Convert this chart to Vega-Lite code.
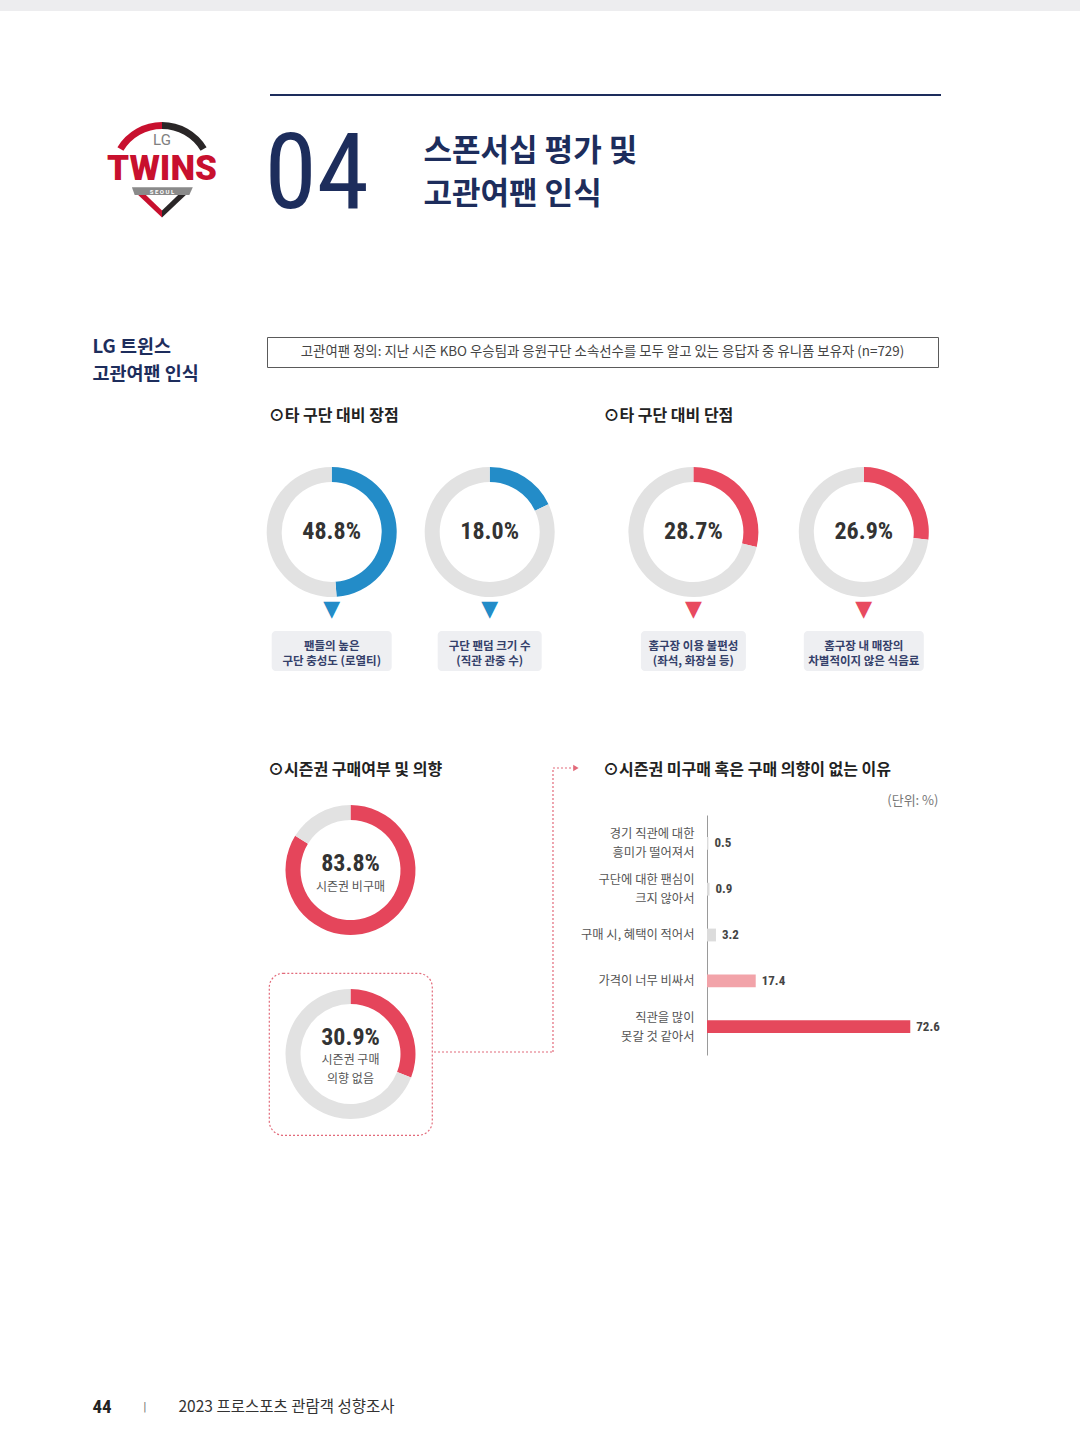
{
  "$schema": "https://vega.github.io/schema/vega-lite/v6.json",
  "background": "white",
  "padding": 0,
  "spacing": 0,
  "resolve": {"scale": {"color": "independent"}},
  "config": {
    "view": {"stroke": null},
    "font": "Noto Sans CJK KR",
    "title": {"font": "Noto Sans CJK KR", "fontWeight": "bold", "fontSize": 16, "color": "#222222"},
    "axis": {"labelFont": "Noto Sans CJK KR", "titleFont": "Noto Sans CJK KR"}
  },
  "vconcat": [
    {"width": 1080, "height": 11, "data": {"values": []}, "mark": "point", "view": {"fill": "#ededef", "stroke": null}},
    {"width": 1, "height": 83, "data": {"values": []}, "mark": "point"},
    {
      "spacing": 0,
      "resolve": {"scale": {"color": "independent"}},
      "hconcat": [
        {"width": 92, "height": 1, "data": {"values": []}, "mark": "point"},
        {
          "spacing": 0,
          "resolve": {"scale": {"color": "independent"}},
          "vconcat": [
            {
              "hconcat": [
                {
                  "width": 140,
                  "height": 160,
                  "layer": [
                    {
                      "data": {"values": [{"half": "L", "share": 1}, {"half": "R", "share": 1}]},
                      "mark": {"type": "arc", "radius": 52, "radius2": 45},
                      "encoding": {
                        "theta": {"field": "share", "type": "quantitative", "stack": true, "scale": {"range": [-1.03, 1.03]}},
                        "order": {"field": "half"},
                        "color": {"field": "half", "type": "nominal", "scale": {"domain": ["L", "R"], "range": ["#c8102e", "#2a2627"]}, "legend": null}
                      }
                    },
                    {
                      "data": {"values": [{}]},
                      "mark": {"type": "point", "shape": "M-0.43,0.19L0.44,0.19L0.39,0.3L-0.39,0.3Z", "size": 19600, "filled": true, "opacity": 1, "color": "#8a8a8a", "strokeWidth": 0},
                      "encoding": {}
                    },
                    {
                      "data": {"values": [{}]},
                      "mark": {"type": "point", "shape": "M-0.34,0.3L0,0.62L0,0.52L-0.23,0.3Z", "size": 19600, "filled": true, "opacity": 1, "color": "#c8102e", "strokeWidth": 0},
                      "encoding": {}
                    },
                    {
                      "data": {"values": [{}]},
                      "mark": {"type": "point", "shape": "M0.34,0.3L0,0.62L0,0.52L0.23,0.3Z", "size": 19600, "filled": true, "opacity": 1, "color": "#2a2627", "strokeWidth": 0},
                      "encoding": {}
                    },
                    {
                      "data": {"values": [{"t": "LG"}]},
                      "mark": {"type": "text", "font": "Roboto", "fontSize": 15, "color": "#808080", "dy": -34},
                      "encoding": {"text": {"field": "t"}}
                    },
                    {
                      "data": {"values": [{"t": "TWINS"}]},
                      "mark": {"type": "text", "font": "Roboto", "fontWeight": 900, "fontSize": 35, "color": "#c8102e", "dy": -5},
                      "encoding": {"text": {"field": "t"}}
                    },
                    {
                      "data": {"values": [{"t": "S E O U L"}]},
                      "mark": {"type": "text", "font": "Roboto", "fontWeight": "bold", "fontSize": 6, "color": "#ffffff", "dy": 18},
                      "encoding": {"text": {"field": "t"}}
                    }
                  ]
                },
                {
                  "spacing": 0,
                  "vconcat": [
                    {
                      "width": 671,
                      "height": 2,
                      "data": {"values": []},
                      "mark": "point",
                      "view": {"fill": "#1d2d5c", "stroke": null}
                    },
                    {
                      "spacing": 53,
                      "hconcat": [
                        {
                          "width": 1,
                          "height": 150,
                          "data": {"values": [{"t": "04"}]},
                          "mark": {"type": "text", "align": "left", "baseline": "middle", "font": "Liberation Sans Narrow, Roboto Condensed, DejaVu Sans Condensed, Roboto, sans-serif", "fontSize": 106, "color": "#1d2d5c", "dx": -6, "dy": 5},
                          "encoding": {"text": {"field": "t"}}
                        },
                        {
                          "width": 1,
                          "height": 150,
                          "data": {"values": [{"t": "스폰서십 평가 및\n고관여팬 인식"}]},
                          "mark": {"type": "text", "align": "left", "baseline": "middle", "lineBreak": "\n", "lineHeight": 43, "fontSize": 31, "fontWeight": "bold", "color": "#1d2d5c", "dy": -19},
                          "encoding": {"text": {"field": "t"}}
                        }
                      ]
                    }
                  ]
                }
              ],
              "spacing": 32,
              "resolve": {"scale": {"color": "independent"}}
            },
            {"width": 1, "height": 82, "data": {"values": []}, "mark": "point"},
            {
              "spacing": 67,
              "hconcat": [
                {
                  "width": 1,
                  "height": 30,
                  "data": {"values": [{"t": "LG 트윈스\n고관여팬 인식"}]},
                  "mark": {"type": "text", "align": "left", "baseline": "middle", "lineBreak": "\n", "lineHeight": 27, "fontSize": 18.5, "fontWeight": "bold", "color": "#1d2d5c", "dy": -5},
                  "encoding": {"text": {"field": "t"}}
                },
                {
                  "width": 671,
                  "height": 30,
                  "data": {"values": [{"t": "고관여팬 정의: 지난 시즌 KBO 우승팀과 응원구단 소속선수를 모두 알고 있는 응답자 중 유니폼 보유자 (n=729)"}]},
                  "view": {"fill": "#ffffff", "stroke": "#5a5a5a", "strokeWidth": 1},
                  "mark": {"type": "text", "fontSize": 13.4, "color": "#444444"},
                  "encoding": {"text": {"field": "t"}}
                }
              ]
            },
            {"width": 1, "height": 24, "data": {"values": []}, "mark": "point"},
            {
              "spacing": 48.7,
              "resolve": {"scale": {"color": "independent"}},
              "hconcat": [
                {"width": 126, "height": 1, "data": {"values": []}, "mark": "point"},
                {
                  "title": {"text": "⊙타 구단 대비 장점", "dx": 2, "offset": 27, "baseline": "bottom"},
                  "spacing": 28,
                  "resolve": {"scale": {"color": "independent"}},
                  "hconcat": [
                    {
                      "spacing": 1,
                      "center": true,
                      "resolve": {"scale": {"color": "independent"}},
                      "vconcat": [
                        {
                          "width": 130,
                          "height": 130,
                          "data": {"values": [{"part": "응답", "share": 0.488}, {"part": "기타", "share": 0.512}]},
                          "layer": [
                            {
                              "mark": {"type": "arc", "radius": 65, "radius2": 50},
                              "encoding": {
                                "theta": {"field": "share", "type": "quantitative", "stack": true},
                                "order": {"field": "part", "sort": "descending"},
                                "color": {"field": "part", "type": "nominal", "scale": {"domain": ["응답", "기타"], "range": ["#238cc8", "#e2e2e2"]}, "legend": null}
                              }
                            },
                            {
                              "transform": [{"filter": "datum.part == '응답'"}],
                              "mark": {"type": "text", "font": "Liberation Sans Narrow, Roboto Condensed, DejaVu Sans Condensed, Roboto, sans-serif", "fontWeight": "bold", "fontSize": 24, "color": "#333333"},
                              "encoding": {"text": {"field": "share", "type": "quantitative", "format": ".1%"}}
                            }
                          ]
                        },
                        {
                          "width": 120,
                          "height": 40,
                          "data": {"values": [{"t": "팬들의 높은\n구단 충성도 (로열티)"}]},
                          "view": {"fill": "#eeeff2", "stroke": null, "cornerRadius": 4},
                          "title": {"text": "▼", "font": "DejaVu Sans", "fontSize": 22, "color": "#238cc8", "offset": -12, "baseline": "bottom"},
                          "mark": {"type": "text", "lineBreak": "\n", "lineHeight": 15, "fontSize": 11.5, "fontWeight": "bold", "color": "#34406a", "dy": -4},
                          "encoding": {"text": {"field": "t"}}
                        }
                      ]
                    },
                    {
                      "spacing": 1,
                      "center": true,
                      "resolve": {"scale": {"color": "independent"}},
                      "vconcat": [
                        {
                          "width": 130,
                          "height": 130,
                          "data": {"values": [{"part": "응답", "share": 0.18}, {"part": "기타", "share": 0.82}]},
                          "layer": [
                            {
                              "mark": {"type": "arc", "radius": 65, "radius2": 50},
                              "encoding": {
                                "theta": {"field": "share", "type": "quantitative", "stack": true},
                                "order": {"field": "part", "sort": "descending"},
                                "color": {"field": "part", "type": "nominal", "scale": {"domain": ["응답", "기타"], "range": ["#238cc8", "#e2e2e2"]}, "legend": null}
                              }
                            },
                            {
                              "transform": [{"filter": "datum.part == '응답'"}],
                              "mark": {"type": "text", "font": "Liberation Sans Narrow, Roboto Condensed, DejaVu Sans Condensed, Roboto, sans-serif", "fontWeight": "bold", "fontSize": 24, "color": "#333333"},
                              "encoding": {"text": {"field": "share", "type": "quantitative", "format": ".1%"}}
                            }
                          ]
                        },
                        {
                          "width": 104,
                          "height": 40,
                          "data": {"values": [{"t": "구단 팬덤 크기 수\n(직관 관중 수)"}]},
                          "view": {"fill": "#eeeff2", "stroke": null, "cornerRadius": 4},
                          "title": {"text": "▼", "font": "DejaVu Sans", "fontSize": 22, "color": "#238cc8", "offset": -12, "baseline": "bottom"},
                          "mark": {"type": "text", "lineBreak": "\n", "lineHeight": 15, "fontSize": 11.5, "fontWeight": "bold", "color": "#34406a", "dy": -4},
                          "encoding": {"text": {"field": "t"}}
                        }
                      ]
                    }
                  ]
                },
                {
                  "title": {"text": "⊙타 구단 대비 단점", "dx": -25, "offset": 27, "baseline": "bottom"},
                  "spacing": 40.4,
                  "resolve": {"scale": {"color": "independent"}},
                  "hconcat": [
                    {
                      "spacing": 1,
                      "center": true,
                      "resolve": {"scale": {"color": "independent"}},
                      "vconcat": [
                        {
                          "width": 130,
                          "height": 130,
                          "data": {"values": [{"part": "응답", "share": 0.287}, {"part": "기타", "share": 0.713}]},
                          "layer": [
                            {
                              "mark": {"type": "arc", "radius": 65, "radius2": 50},
                              "encoding": {
                                "theta": {"field": "share", "type": "quantitative", "stack": true},
                                "order": {"field": "part", "sort": "descending"},
                                "color": {"field": "part", "type": "nominal", "scale": {"domain": ["응답", "기타"], "range": ["#e84a5f", "#e2e2e2"]}, "legend": null}
                              }
                            },
                            {
                              "transform": [{"filter": "datum.part == '응답'"}],
                              "mark": {"type": "text", "font": "Liberation Sans Narrow, Roboto Condensed, DejaVu Sans Condensed, Roboto, sans-serif", "fontWeight": "bold", "fontSize": 24, "color": "#333333"},
                              "encoding": {"text": {"field": "share", "type": "quantitative", "format": ".1%"}}
                            }
                          ]
                        },
                        {
                          "width": 105,
                          "height": 40,
                          "data": {"values": [{"t": "홈구장 이용 불편성\n(좌석, 화장실 등)"}]},
                          "view": {"fill": "#eeeff2", "stroke": null, "cornerRadius": 4},
                          "title": {"text": "▼", "font": "DejaVu Sans", "fontSize": 22, "color": "#e84a5f", "offset": -12, "baseline": "bottom"},
                          "mark": {"type": "text", "lineBreak": "\n", "lineHeight": 15, "fontSize": 11.5, "fontWeight": "bold", "color": "#34406a", "dy": -4},
                          "encoding": {"text": {"field": "t"}}
                        }
                      ]
                    },
                    {
                      "spacing": 1,
                      "center": true,
                      "resolve": {"scale": {"color": "independent"}},
                      "vconcat": [
                        {
                          "width": 130,
                          "height": 130,
                          "data": {"values": [{"part": "응답", "share": 0.269}, {"part": "기타", "share": 0.731}]},
                          "layer": [
                            {
                              "mark": {"type": "arc", "radius": 65, "radius2": 50},
                              "encoding": {
                                "theta": {"field": "share", "type": "quantitative", "stack": true},
                                "order": {"field": "part", "sort": "descending"},
                                "color": {"field": "part", "type": "nominal", "scale": {"domain": ["응답", "기타"], "range": ["#e84a5f", "#e2e2e2"]}, "legend": null}
                              }
                            },
                            {
                              "transform": [{"filter": "datum.part == '응답'"}],
                              "mark": {"type": "text", "font": "Liberation Sans Narrow, Roboto Condensed, DejaVu Sans Condensed, Roboto, sans-serif", "fontWeight": "bold", "fontSize": 24, "color": "#333333"},
                              "encoding": {"text": {"field": "share", "type": "quantitative", "format": ".1%"}}
                            }
                          ]
                        },
                        {
                          "width": 120,
                          "height": 40,
                          "data": {"values": [{"t": "홈구장 내 매장의\n차별적이지 않은 식음료"}]},
                          "view": {"fill": "#eeeff2", "stroke": null, "cornerRadius": 4},
                          "title": {"text": "▼", "font": "DejaVu Sans", "fontSize": 22, "color": "#e84a5f", "offset": -12, "baseline": "bottom"},
                          "mark": {"type": "text", "lineBreak": "\n", "lineHeight": 15, "fontSize": 11.5, "fontWeight": "bold", "color": "#34406a", "dy": -4},
                          "encoding": {"text": {"field": "t"}}
                        }
                      ]
                    }
                  ]
                }
              ]
            },
            {"width": 1, "height": 91, "data": {"values": []}, "mark": "point"},
            {
              "title": {"text": "⊙시즌권 구매여부 및 의향", "anchor": "start", "dx": 176, "baseline": "middle", "offset": -24},
              "spacing": 0,
              "resolve": {"scale": {"color": "independent"}},
              "hconcat": [
                {"width": 176, "height": 1, "data": {"values": []}, "mark": "point"},
                {
                  "spacing": 0,
                  "resolve": {"scale": {"color": "independent"}},
                  "vconcat": [
                    {
                      "width": 163,
                      "height": 204,
                      "data": {"values": [{"part": "응답", "share": 0.838, "label": "시즌권 비구매"}, {"part": "기타", "share": 0.162}]},
                      "layer": [
                        {
                          "mark": {"type": "arc", "radius": 65, "radius2": 50},
                          "encoding": {
                            "theta": {"field": "share", "type": "quantitative", "stack": true},
                            "order": {"field": "part", "sort": "descending"},
                            "color": {"field": "part", "type": "nominal", "scale": {"domain": ["응답", "기타"], "range": ["#e5455b", "#e2e2e2"]}, "legend": null}
                          }
                        },
                        {
                          "transform": [{"filter": "datum.part == '응답'"}],
                          "mark": {"type": "text", "font": "Liberation Sans Narrow, Roboto Condensed, DejaVu Sans Condensed, Roboto, sans-serif", "fontWeight": "bold", "fontSize": 24, "color": "#333333", "dy": -6},
                          "encoding": {"text": {"field": "share", "type": "quantitative", "format": ".1%"}}
                        },
                        {
                          "transform": [{"filter": "datum.part == '응답'"}],
                          "mark": {"type": "text", "fontSize": 12, "color": "#555555", "dy": 17},
                          "encoding": {"text": {"field": "label"}}
                        }
                      ]
                    },
                    {
                      "width": 163,
                      "height": 162,
                      "view": {"fill": null, "stroke": "#e26a7a", "strokeWidth": 1.2, "strokeDash": [2, 2], "cornerRadius": 14},
                      "data": {"values": [{"part": "응답", "share": 0.309, "label": "시즌권 구매\n의향 없음"}, {"part": "기타", "share": 0.691}]},
                      "layer": [
                        {
                          "mark": {"type": "arc", "radius": 65, "radius2": 50},
                          "encoding": {
                            "theta": {"field": "share", "type": "quantitative", "stack": true},
                            "order": {"field": "part", "sort": "descending"},
                            "color": {"field": "part", "type": "nominal", "scale": {"domain": ["응답", "기타"], "range": ["#e5455b", "#e2e2e2"]}, "legend": null}
                          }
                        },
                        {
                          "transform": [{"filter": "datum.part == '응답'"}],
                          "mark": {"type": "text", "font": "Liberation Sans Narrow, Roboto Condensed, DejaVu Sans Condensed, Roboto, sans-serif", "fontWeight": "bold", "fontSize": 24, "color": "#333333", "dy": -16},
                          "encoding": {"text": {"field": "share", "type": "quantitative", "format": ".1%"}}
                        },
                        {
                          "transform": [{"filter": "datum.part == '응답'"}],
                          "mark": {"type": "text", "fontSize": 12, "color": "#555555", "dy": 6, "lineBreak": "\n", "lineHeight": 19},
                          "encoding": {"text": {"field": "label"}}
                        }
                      ]
                    }
                  ]
                },
                {
                  "width": 146,
                  "height": 284,
                  "data": {"values": [{}]},
                  "layer": [
                    {
                      "mark": {"type": "rule", "color": "#e26a7a", "strokeDash": [2, 2], "strokeWidth": 1.2},
                      "encoding": {
                        "x": {"datum": 0, "type": "quantitative", "scale": {"domain": [0, 1]}, "axis": null},
                        "x2": {"datum": 0.815},
                        "y": {"datum": 0, "type": "quantitative", "scale": {"domain": [0, 1]}, "axis": null}
                      }
                    },
                    {
                      "mark": {"type": "rule", "color": "#e26a7a", "strokeDash": [2, 2], "strokeWidth": 1.2},
                      "encoding": {
                        "x": {"datum": 0.815, "type": "quantitative", "axis": null},
                        "y": {"datum": 0, "type": "quantitative", "axis": null},
                        "y2": {"datum": 1}
                      }
                    },
                    {
                      "mark": {"type": "rule", "color": "#e26a7a", "strokeDash": [2, 2], "strokeWidth": 1.2},
                      "encoding": {
                        "x": {"datum": 0.815, "type": "quantitative", "axis": null},
                        "x2": {"datum": 0.955},
                        "y": {"datum": 1, "type": "quantitative", "axis": null}
                      }
                    },
                    {
                      "mark": {"type": "point", "shape": "triangle-right", "filled": true, "opacity": 1, "size": 40, "color": "#e26a7a"},
                      "encoding": {
                        "x": {"datum": 0.972, "type": "quantitative", "axis": null},
                        "y": {"datum": 1, "type": "quantitative", "axis": null}
                      }
                    }
                  ]
                },
                {
                  "spacing": 16,
                  "resolve": {"scale": {"color": "independent"}},
                  "vconcat": [
                    {
                      "width": 231,
                      "height": 1,
                      "data": {"values": []},
                      "mark": "point",
                      "title": {"text": "⊙시즌권 미구매 혹은 구매 의향이 없는 이유", "anchor": "start", "frame": "group", "baseline": "middle", "offset": -18, "dx": -104}
                    },
                    {
                      "width": 231,
                      "height": 240,
                      "data": {
                        "values": [
                          {"reason": "경기 직관에 대한\n흥미가 떨어져서", "pct": 0.5},
                          {"reason": "구단에 대한 팬심이\n크지 않아서", "pct": 0.9},
                          {"reason": "구매 시, 혜택이 적어서", "pct": 3.2},
                          {"reason": "가격이 너무 비싸서", "pct": 17.4},
                          {"reason": "직관을 많이\n못갈 것 같아서", "pct": 72.6}
                        ]
                      },
                      "encoding": {
                        "y": {
                          "field": "reason",
                          "type": "nominal",
                          "sort": null,
                          "scale": {"paddingInner": 0.72, "paddingOuter": 0.48},
                          "axis": {
                            "title": null,
                            "labelExpr": "split(datum.label, '\\n')",
                            "labelOffset": {"condition": {"test": "indexof(datum.value, '\\n') >= 0", "value": -9}, "value": 0},
                            "ticks": false,
                            "domainColor": "#9a9a9a",
                            "labelPadding": 13,
                            "labelFontSize": 12.3,
                            "labelColor": "#555555",
                            "labelLineHeight": 19
                          }
                        },
                        "x": {
                          "field": "pct",
                          "type": "quantitative",
                          "scale": {"domain": [0, 82.5]},
                          "axis": {"orient": "top", "title": "(단위: %)", "titleAnchor": "end", "titleFontSize": 13, "titleFontWeight": "normal", "titleColor": "#777777", "titlePadding": 8, "labels": false, "ticks": false, "domain": false, "grid": false}
                        }
                      },
                      "layer": [
                        {
                          "mark": {"type": "bar"},
                          "encoding": {
                            "color": {"field": "pct", "type": "quantitative", "scale": {"type": "threshold", "domain": [10, 50], "range": ["#dcdcdc", "#f2a3a9", "#e5485c"]}, "legend": null}
                          }
                        },
                        {
                          "mark": {"type": "text", "align": "left", "dx": 6, "font": "Liberation Sans Narrow, Roboto Condensed, DejaVu Sans Condensed, Roboto, sans-serif", "fontWeight": "bold", "fontSize": 13, "color": "#444444"},
                          "encoding": {"text": {"field": "pct", "type": "quantitative", "format": ".1f"}}
                        }
                      ]
                    }
                  ]
                }
              ]
            },
            {"width": 1, "height": 261, "data": {"values": []}, "mark": "point"},
            {
              "spacing": 30.5,
              "hconcat": [
                {
                  "width": 1,
                  "height": 1,
                  "data": {"values": [{"t": "44"}]},
                  "mark": {"type": "text", "align": "left", "baseline": "middle", "font": "Liberation Sans Narrow, Roboto Condensed, DejaVu Sans Condensed, Roboto, sans-serif", "fontWeight": "bold", "fontSize": 19, "color": "#222222"},
                  "encoding": {"text": {"field": "t"}}
                },
                {
                  "width": 1,
                  "height": 1,
                  "data": {"values": [{"t": "|"}]},
                  "mark": {"type": "text", "align": "left", "baseline": "middle", "font": "DejaVu Sans", "fontSize": 11, "color": "#777777"},
                  "encoding": {"text": {"field": "t"}}
                },
                {
                  "width": 1,
                  "height": 1,
                  "data": {"values": [{"t": "2023 프로스포츠 관람객 성향조사"}]},
                  "mark": {"type": "text", "align": "left", "baseline": "middle", "fontSize": 15.5, "color": "#333333"},
                  "encoding": {"text": {"field": "t"}}
                }
              ]
            }
          ]
        }
      ]
    }
  ]
}
